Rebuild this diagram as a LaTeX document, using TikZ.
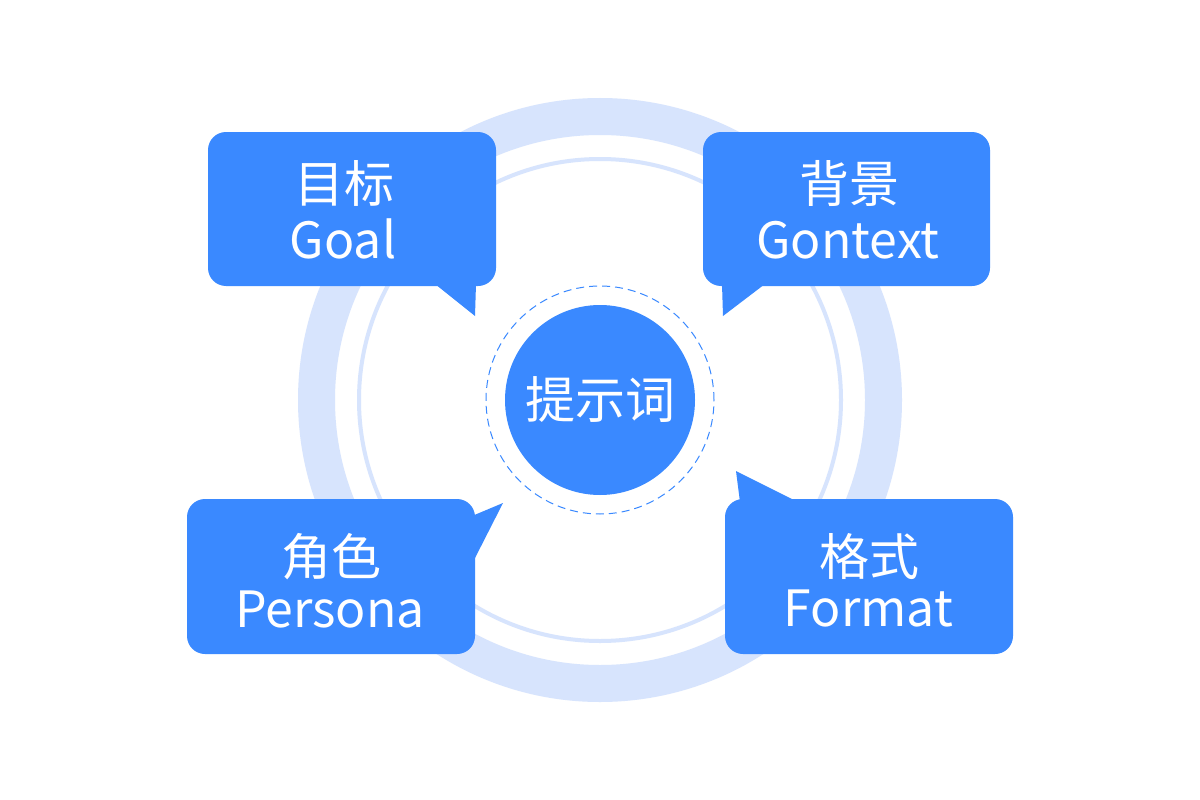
\documentclass[tikz,border=0pt]{standalone}
\usepackage{fontspec}
\setmainfont{Noto Sans CJK SC}
\definecolor{calloutblue}{HTML}{3A89FF}
\definecolor{ringblue}{HTML}{D7E4FD}
\begin{document}
\begin{tikzpicture}[x=1pt,y=-1pt,
  bubble/.style={fill=calloutblue, rounded corners=18pt, inner sep=0pt},
  label/.style={text=white, font=\fontsize{50}{56}\selectfont, inner sep=0pt, anchor=base},
  tail/.style={fill=calloutblue}]
\useasboundingbox (0,0) rectangle (1200,800);
\fill[white] (0,0) rectangle (1200,800);

% background rings
\coordinate (hub) at (600,400);
\draw[ringblue, line width=37pt] (hub) circle[radius=283.5];
\draw[ringblue, line width=4pt] (hub) circle[radius=241];

% central topic
\node (halo) at (hub) [circle, draw=calloutblue, line width=1pt, dash pattern=on 8pt off 5pt, minimum size=228pt, inner sep=0pt] {};
\node (core) at (hub) [circle, fill=calloutblue, minimum size=190pt, inner sep=0pt, text=white, font=\fontsize{50}{56}\selectfont] {提示词};

% four speech bubbles
\node (goalbox) [bubble, minimum width=288pt, minimum height=154pt] at (352,209) {};
\fill[tail] (435,284) -- (475,316) -- (476,284) -- cycle;
\node (goalzh) [label] at (344,202) {目标};
\node (goalen) [label] at (343,258) {Goal};

\node (ctxbox) [bubble, minimum width=287pt, minimum height=154pt] at (846.5,209) {};
\fill[tail] (722,284) -- (723,316) -- (765,284) -- cycle;
\node (ctxzh) [label] at (849,202) {背景};
\node (ctxen) [label] at (848,258) {Gontext};

\node (perbox) [bubble, minimum width=288pt, minimum height=155pt] at (331,576.5) {};
\fill[tail] (472,516) -- (503,503) -- (474,560) -- (472,560) -- cycle;
\node (perzh) [label] at (331,575) {角色};
\node (peren) [label] at (330,627) {Persona};

\node (fmtbox) [bubble, minimum width=288pt, minimum height=155pt] at (869,576.5) {};
\fill[tail] (740,502) -- (736,471) -- (792,499) -- (792,502) -- cycle;
\node (fmtzh) [label] at (869,575) {格式};
\node (fmten) [label] at (868.5,626) {Format};
\end{tikzpicture}
\end{document}
